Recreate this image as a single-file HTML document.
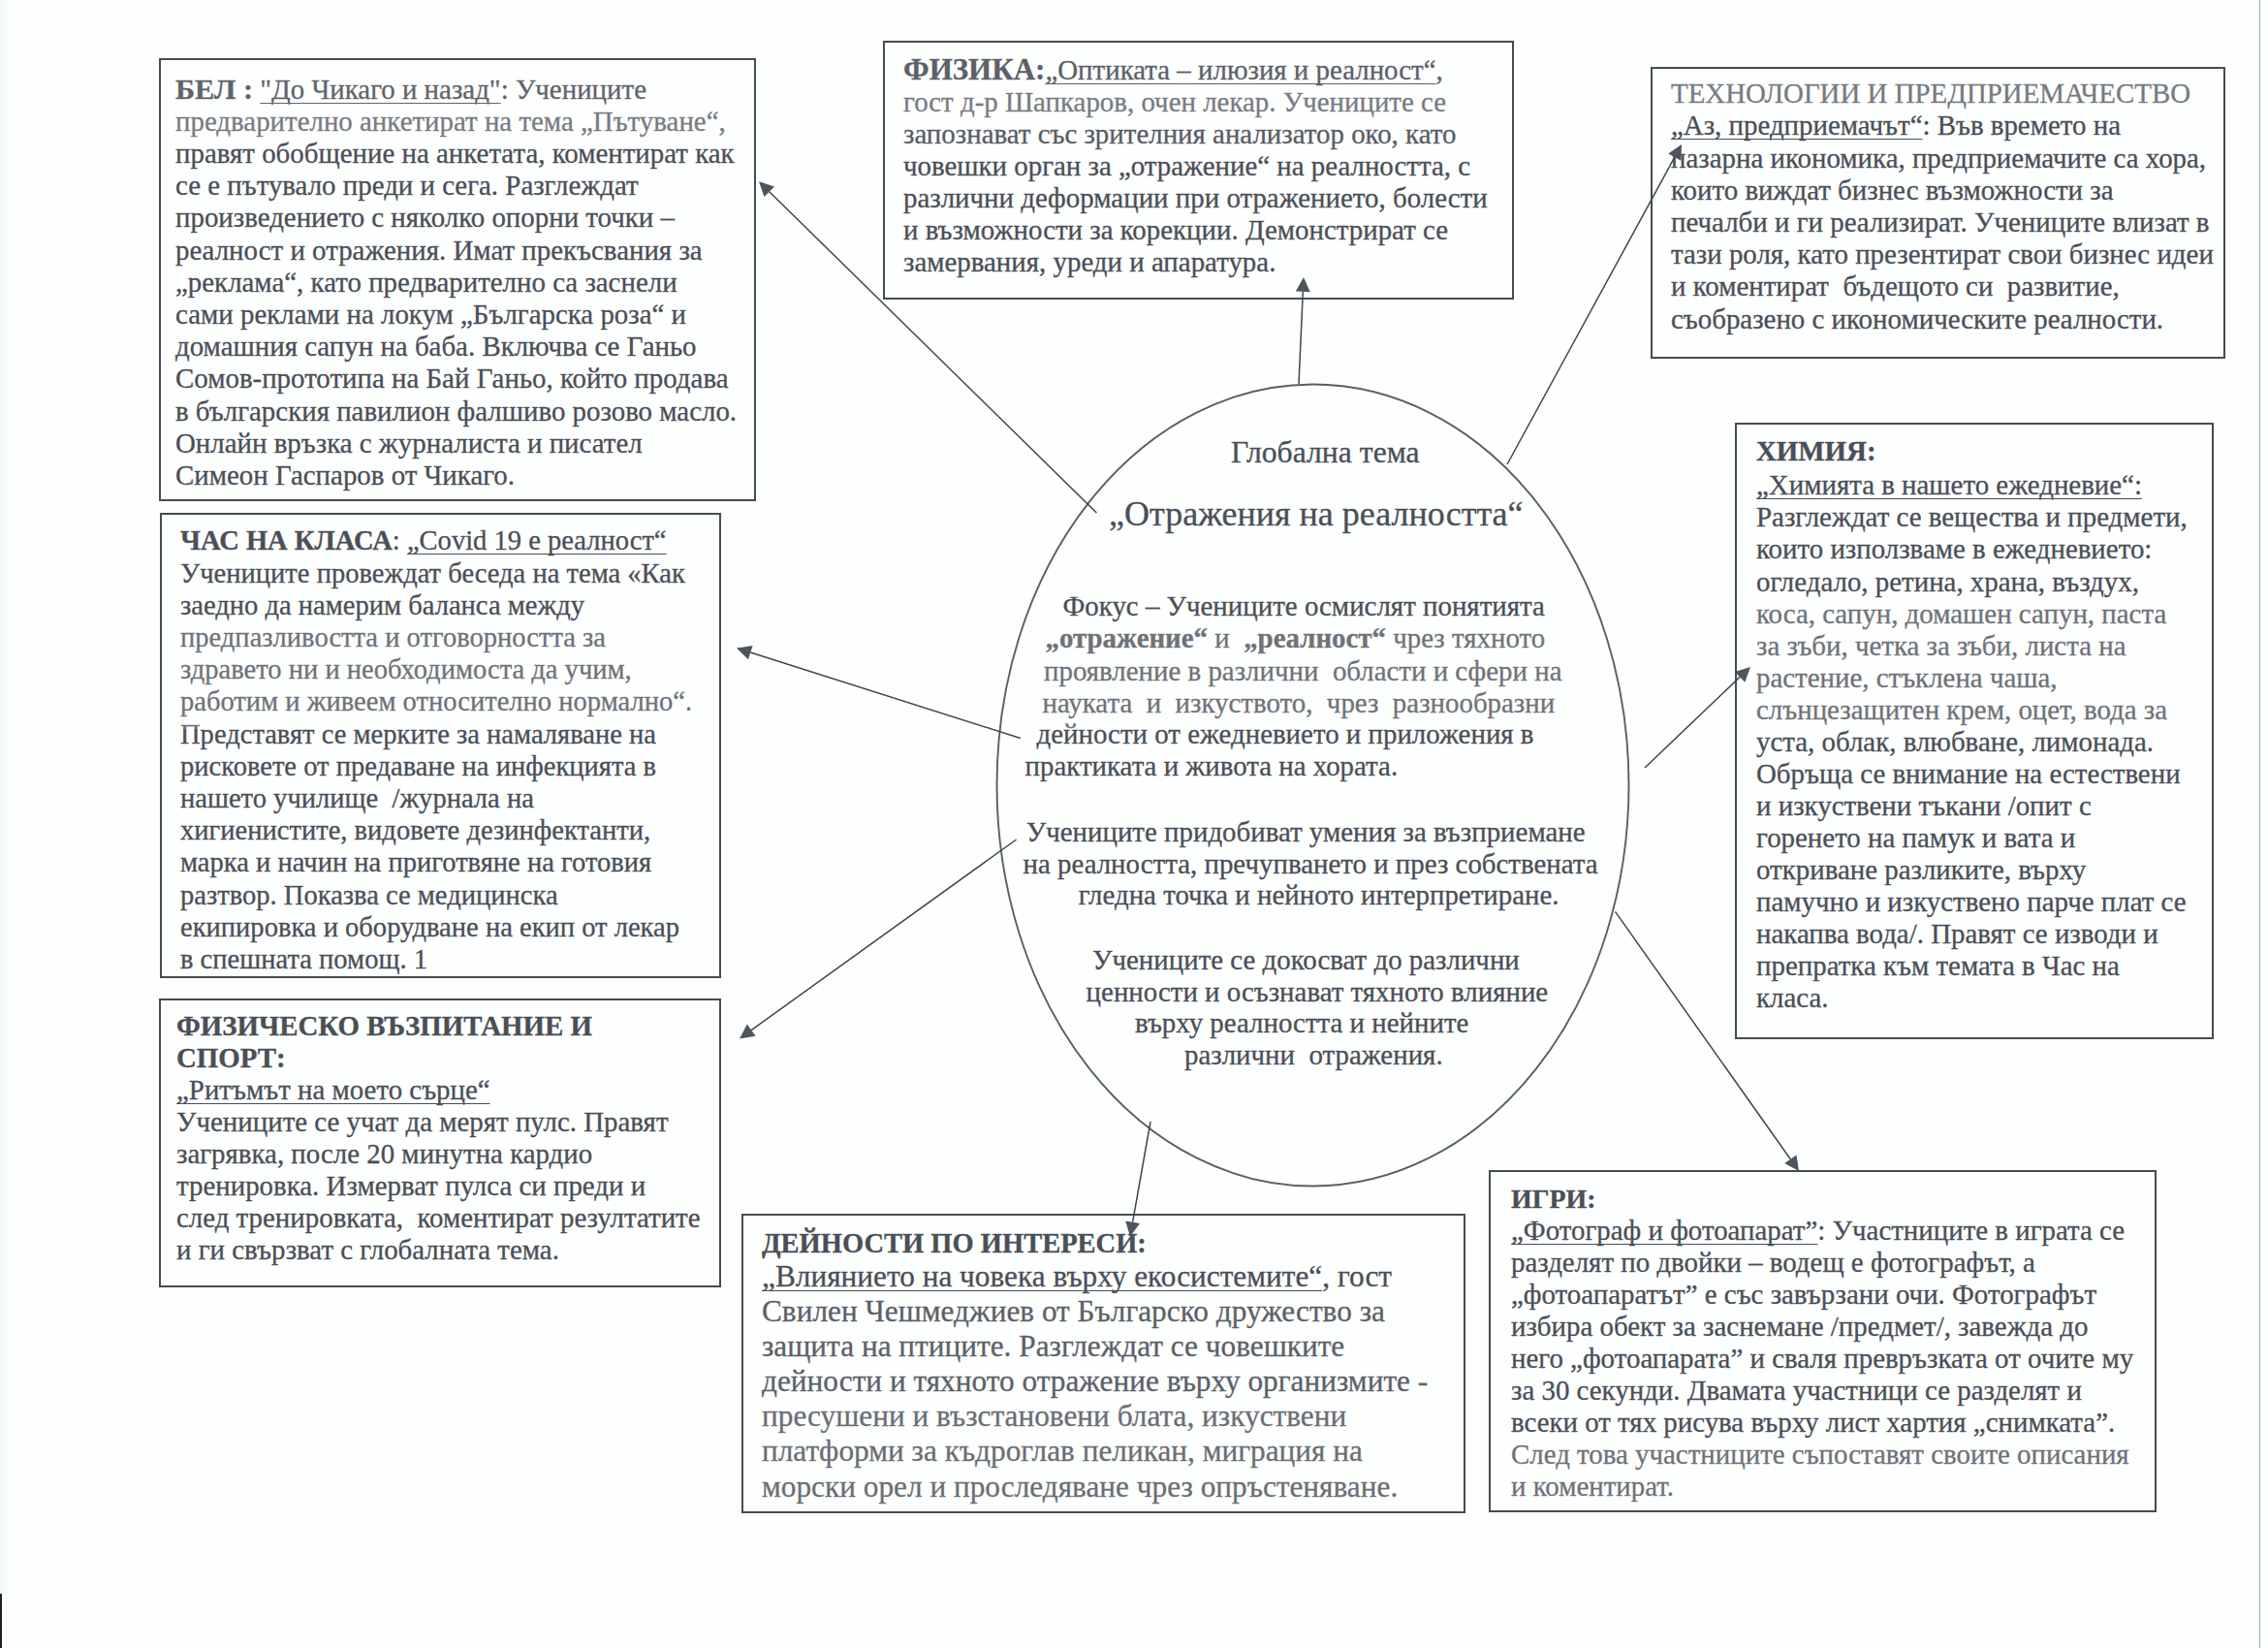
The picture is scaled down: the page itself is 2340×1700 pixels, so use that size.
<!DOCTYPE html>
<html><head><meta charset="utf-8"><style>
html,body{margin:0;padding:0}
body{width:2340px;height:1700px;position:relative;overflow:hidden;background:#fdfefe;font-family:"Liberation Serif",serif;color:#4a4f57}
.box{position:absolute;border:2px solid #464b54;box-sizing:border-box}
.l{position:absolute;white-space:pre;line-height:1;-webkit-text-stroke:0.3px #4a4f57}
u{text-decoration:underline;text-decoration-thickness:1.4px;text-underline-offset:3.5px;text-decoration-skip-ink:none}
b{font-weight:bold;line-height:0}
svg{position:absolute;left:0;top:0}
</style></head><body>

<div class="l" style="left:181.0px;top:77.5px;font-size:28.9px"><b style="font-size:30.3px">БЕЛ :</b> <u>"До Чикаго и назад"</u>: Учениците</div>
<div class="l" style="left:181.0px;top:110.7px;font-size:28.9px">предварително анкетират на тема „Пътуване“,</div>
<div class="l" style="left:181.0px;top:143.9px;font-size:28.9px">правят обобщение на анкетата, коментират как</div>
<div class="l" style="left:181.0px;top:177.1px;font-size:28.9px">се е пътувало преди и сега. Разглеждат</div>
<div class="l" style="left:181.0px;top:210.3px;font-size:28.9px">произведението с няколко опорни точки –</div>
<div class="l" style="left:181.0px;top:243.5px;font-size:28.9px">реалност и отражения. Имат прекъсвания за</div>
<div class="l" style="left:181.0px;top:276.7px;font-size:28.9px">„реклама“, като предварително са заснели</div>
<div class="l" style="left:181.0px;top:309.9px;font-size:28.9px">сами реклами на локум „Българска роза“ и</div>
<div class="l" style="left:181.0px;top:343.1px;font-size:28.9px">домашния сапун на баба. Включва се Ганьо</div>
<div class="l" style="left:181.0px;top:376.3px;font-size:28.9px">Сомов-прототипа на Бай Ганьо, който продава</div>
<div class="l" style="left:181.0px;top:409.5px;font-size:28.9px">в българския павилион фалшиво розово масло.</div>
<div class="l" style="left:181.0px;top:442.7px;font-size:28.9px">Онлайн връзка с журналиста и писател</div>
<div class="l" style="left:181.0px;top:475.9px;font-size:28.9px">Симеон Гаспаров от Чикаго.</div>
<div class="l" style="left:932.0px;top:58.3px;font-size:28.9px"><b style="font-size:31px">ФИЗИКА:</b><u>„Оптиката – илюзия и реалност“</u>,</div>
<div class="l" style="left:932.0px;top:91.3px;font-size:28.9px">гост д-р Шапкаров, очен лекар. Учениците се</div>
<div class="l" style="left:932.0px;top:124.3px;font-size:28.9px">запознават със зрителния анализатор око, като</div>
<div class="l" style="left:932.0px;top:157.3px;font-size:28.9px">човешки орган за „отражение“ на реалността, с</div>
<div class="l" style="left:932.0px;top:190.3px;font-size:28.9px">различни деформации при отражението, болести</div>
<div class="l" style="left:932.0px;top:223.3px;font-size:28.9px">и възможности за корекции. Демонстрират се</div>
<div class="l" style="left:932.0px;top:256.3px;font-size:28.9px">замервания, уреди и апаратура.</div>
<div class="l" style="left:1724.0px;top:82.1px;font-size:28.9px">ТЕХНОЛОГИИ И ПРЕДПРИЕМАЧЕСТВО</div>
<div class="l" style="left:1724.0px;top:115.3px;font-size:28.9px"><u>„Аз, предприемачът“</u>: Във времето на</div>
<div class="l" style="left:1724.0px;top:148.5px;font-size:28.9px">пазарна икономика, предприемачите са хора,</div>
<div class="l" style="left:1724.0px;top:181.7px;font-size:28.9px">които виждат бизнес възможности за</div>
<div class="l" style="left:1724.0px;top:214.9px;font-size:28.9px">печалби и ги реализират. Учениците влизат в</div>
<div class="l" style="left:1724.0px;top:248.1px;font-size:28.9px">тази роля, като презентират свои бизнес идеи</div>
<div class="l" style="left:1724.0px;top:281.3px;font-size:28.9px">и коментират  бъдещото си  развитие,</div>
<div class="l" style="left:1724.0px;top:314.5px;font-size:28.9px">съобразено с икономическите реалности.</div>
<div class="l" style="left:186.0px;top:544.4px;font-size:28.55px"><b>ЧАС НА КЛАСА</b>: <u>„Covid 19 е реалност“</u></div>
<div class="l" style="left:186.0px;top:577.6px;font-size:28.55px">Учениците провеждат беседа на тема «Как</div>
<div class="l" style="left:186.0px;top:610.8px;font-size:28.55px">заедно да намерим баланса между</div>
<div class="l" style="left:186.0px;top:644.0px;font-size:28.55px">предпазливостта и отговорността за</div>
<div class="l" style="left:186.0px;top:677.2px;font-size:28.55px">здравето ни и необходимоста да учим,</div>
<div class="l" style="left:186.0px;top:710.4px;font-size:28.55px">работим и живеем относително нормално“.</div>
<div class="l" style="left:186.0px;top:743.6px;font-size:28.55px">Представят се мерките за намаляване на</div>
<div class="l" style="left:186.0px;top:776.8px;font-size:28.55px">рисковете от предаване на инфекцията в</div>
<div class="l" style="left:186.0px;top:810.0px;font-size:28.55px">нашето училище  /журнала на</div>
<div class="l" style="left:186.0px;top:843.2px;font-size:28.55px">хигиенистите, видовете дезинфектанти,</div>
<div class="l" style="left:186.0px;top:876.4px;font-size:28.55px">марка и начин на приготвяне на готовия</div>
<div class="l" style="left:186.0px;top:909.6px;font-size:28.55px">разтвор. Показва се медицинска</div>
<div class="l" style="left:186.0px;top:942.8px;font-size:28.55px">екипировка и оборудване на екип от лекар</div>
<div class="l" style="left:186.0px;top:976.0px;font-size:28.55px">в спешната помощ. 1</div>
<div class="l" style="left:182.0px;top:1043.6px;font-size:28.9px"><b>ФИЗИЧЕСКО ВЪЗПИТАНИЕ И</b></div>
<div class="l" style="left:182.0px;top:1076.6px;font-size:28.9px"><b>СПОРТ:</b></div>
<div class="l" style="left:182.0px;top:1109.6px;font-size:28.9px"><u>„Ритъмът на моето сърце“</u></div>
<div class="l" style="left:182.0px;top:1142.6px;font-size:28.9px">Учениците се учат да мерят пулс. Правят</div>
<div class="l" style="left:182.0px;top:1175.6px;font-size:28.9px">загрявка, после 20 минутна кардио</div>
<div class="l" style="left:182.0px;top:1208.6px;font-size:28.9px">тренировка. Измерват пулса си преди и</div>
<div class="l" style="left:182.0px;top:1241.6px;font-size:28.9px">след тренировката,  коментират резултатите</div>
<div class="l" style="left:182.0px;top:1274.6px;font-size:28.9px">и ги свързват с глобалната тема.</div>
<div class="l" style="left:786.0px;top:1264.8px;font-size:31.3px"><b style="font-size:28.5px;position:relative;top:1.5px">ДЕЙНОСТИ ПО ИНТЕРЕСИ:</b></div>
<div class="l" style="left:786.0px;top:1300.9px;font-size:31.3px"><u>„Влиянието на човека върху екосистемите“</u>, гост</div>
<div class="l" style="left:786.0px;top:1337.0px;font-size:31.3px">Свилен Чешмеджиев от Българско дружество за</div>
<div class="l" style="left:786.0px;top:1373.1px;font-size:31.3px">защита на птиците. Разглеждат се човешките</div>
<div class="l" style="left:786.0px;top:1409.2px;font-size:31.3px">дейности и тяхното отражение върху организмите -</div>
<div class="l" style="left:786.0px;top:1445.3px;font-size:31.3px">пресушени и възстановени блата, изкуствени</div>
<div class="l" style="left:786.0px;top:1481.4px;font-size:31.3px">платформи за къдроглав пеликан, миграция на</div>
<div class="l" style="left:786.0px;top:1517.5px;font-size:31.3px">морски орел и проследяване чрез опръстеняване.</div>
<div class="l" style="left:1559.0px;top:1222.3px;font-size:28.9px"><b style="font-size:27.9px">ИГРИ:</b></div>
<div class="l" style="left:1559.0px;top:1255.3px;font-size:28.9px"><u>„Фотограф и фотоапарат”</u>: Участниците в играта се</div>
<div class="l" style="left:1559.0px;top:1288.3px;font-size:28.9px">разделят по двойки – водещ е фотографът, а</div>
<div class="l" style="left:1559.0px;top:1321.3px;font-size:28.9px">„фотоапаратът” е със завързани очи. Фотографът</div>
<div class="l" style="left:1559.0px;top:1354.3px;font-size:28.9px">избира обект за заснемане /предмет/, завежда до</div>
<div class="l" style="left:1559.0px;top:1387.3px;font-size:28.9px">него „фотоапарата” и сваля превръзката от очите му</div>
<div class="l" style="left:1559.0px;top:1420.3px;font-size:28.9px">за 30 секунди. Двамата участници се разделят и</div>
<div class="l" style="left:1559.0px;top:1453.3px;font-size:28.9px">всеки от тях рисува върху лист хартия „снимката”.</div>
<div class="l" style="left:1559.0px;top:1486.3px;font-size:28.9px">След това участниците съпоставят своите описания</div>
<div class="l" style="left:1559.0px;top:1519.3px;font-size:28.9px">и коментират.</div>
<div class="l" style="left:1812.0px;top:486.3px;font-size:28.9px"><u>„Химията в нашето ежедневие“:</u></div>
<div class="l" style="left:1812.0px;top:519.4px;font-size:28.9px">Разглеждат се вещества и предмети,</div>
<div class="l" style="left:1812.0px;top:552.4px;font-size:28.9px">които използваме в ежедневието:</div>
<div class="l" style="left:1812.0px;top:585.5px;font-size:28.9px">огледало, ретина, храна, въздух,</div>
<div class="l" style="left:1812.0px;top:618.6px;font-size:28.9px">коса, сапун, домашен сапун, паста</div>
<div class="l" style="left:1812.0px;top:651.6px;font-size:28.9px">за зъби, четка за зъби, листа на</div>
<div class="l" style="left:1812.0px;top:684.7px;font-size:28.9px">растение, стъклена чаша,</div>
<div class="l" style="left:1812.0px;top:717.8px;font-size:28.9px">слънцезащитен крем, оцет, вода за</div>
<div class="l" style="left:1812.0px;top:750.9px;font-size:28.9px">уста, облак, влюбване, лимонада.</div>
<div class="l" style="left:1812.0px;top:783.9px;font-size:28.9px">Обръща се внимание на естествени</div>
<div class="l" style="left:1812.0px;top:817.0px;font-size:28.9px">и изкуствени тъкани /опит с</div>
<div class="l" style="left:1812.0px;top:850.1px;font-size:28.9px">горенето на памук и вата и</div>
<div class="l" style="left:1812.0px;top:883.1px;font-size:28.9px">откриване разликите, върху</div>
<div class="l" style="left:1812.0px;top:916.2px;font-size:28.9px">памучно и изкуствено парче плат се</div>
<div class="l" style="left:1812.0px;top:949.3px;font-size:28.9px">накапва вода/. Правят се изводи и</div>
<div class="l" style="left:1812.0px;top:982.3px;font-size:28.9px">препратка към темата в Час на</div>
<div class="l" style="left:1812.0px;top:1015.4px;font-size:28.9px">класа.</div>
<div class="l" style="left:1812.0px;top:451.3px;font-size:28.9px"><b>ХИМИЯ:</b></div>
<div class="l" style="left:1270.0px;top:451.0px;font-size:31.7px">Глобална тема</div>
<div class="l" style="left:1144.0px;top:511.9px;font-size:36px">„Отражения на реалността“</div>
<div class="l" style="left:1096.5px;top:610.8px;font-size:28.9px">Фокус – Учениците осмислят понятията</div>
<div class="l" style="left:1078.5px;top:643.8px;font-size:28.9px"><b>„отражение“</b> и  <b>„реалност“</b> чрез тяхното</div>
<div class="l" style="left:1077.0px;top:677.8px;font-size:28.9px">проявление в различни  области и сфери на</div>
<div class="l" style="left:1075.5px;top:710.8px;font-size:28.9px">науката  и  изкуството,  чрез  разнообразни</div>
<div class="l" style="left:1069.5px;top:742.8px;font-size:28.9px">дейности от ежедневието и приложения в</div>
<div class="l" style="left:1057.5px;top:775.8px;font-size:28.9px">практиката и живота на хората.</div>
<div class="l" style="left:1058.7px;top:843.8px;font-size:28.9px">Учениците придобиват умения за възприемане</div>
<div class="l" style="left:1055.5px;top:877.4px;font-size:28.9px">на реалността, пречупването и през собствената</div>
<div class="l" style="left:1112.7px;top:908.8px;font-size:28.9px">гледна точка и нейното интерпретиране.</div>
<div class="l" style="left:1127.0px;top:975.8px;font-size:28.9px">Учениците се докосват до различни</div>
<div class="l" style="left:1120.6px;top:1008.8px;font-size:28.9px">ценности и осъзнават тяхното влияние</div>
<div class="l" style="left:1171.0px;top:1040.8px;font-size:28.9px">върху реалността и нейните</div>
<div class="l" style="left:1222.0px;top:1073.8px;font-size:28.9px">различни  отражения.</div>
<div style="position:absolute;left:168px;top:62px;width:608px;height:48px;pointer-events:none;background:rgba(255,255,255,0.12)"></div>
<div style="position:absolute;left:168px;top:110px;width:608px;height:33px;pointer-events:none;background:rgba(255,255,255,0.25)"></div>
<div style="position:absolute;left:915px;top:48px;width:643px;height:42px;pointer-events:none;background:rgba(255,255,255,0.1)"></div>
<div style="position:absolute;left:915px;top:90px;width:643px;height:32px;pointer-events:none;background:rgba(255,255,255,0.25)"></div>
<div style="position:absolute;left:915px;top:122px;width:643px;height:32px;pointer-events:none;background:rgba(255,255,255,0.08)"></div>
<div style="position:absolute;left:1708px;top:74px;width:584px;height:38px;pointer-events:none;background:rgba(255,255,255,0.25)"></div>
<div style="position:absolute;left:0px;top:642px;width:1760px;height:110px;pointer-events:none;background:rgba(255,255,255,0.2)"></div>
<div style="position:absolute;left:1795px;top:619px;width:485px;height:133px;pointer-events:none;background:rgba(255,255,255,0.2)"></div>
<div style="position:absolute;left:768px;top:1335px;width:740px;height:110px;pointer-events:none;background:rgba(255,255,255,0.1)"></div>
<div style="position:absolute;left:768px;top:1445px;width:740px;height:113px;pointer-events:none;background:rgba(255,255,255,0.18)"></div>
<div style="position:absolute;left:1540px;top:1488px;width:690px;height:72px;pointer-events:none;background:rgba(255,255,255,0.2)"></div>
<div class="box" style="left:164px;top:60px;width:616px;height:457px"></div>
<div class="box" style="left:911px;top:42px;width:651px;height:267px"></div>
<div class="box" style="left:1703px;top:69px;width:593px;height:301px"></div>
<div class="box" style="left:165px;top:529px;width:579px;height:480px"></div>
<div class="box" style="left:164px;top:1030px;width:580px;height:298px"></div>
<div class="box" style="left:765px;top:1252px;width:747px;height:309px"></div>
<div class="box" style="left:1536px;top:1207px;width:689px;height:353px"></div>
<div class="box" style="left:1790px;top:436px;width:494px;height:636px"></div>
<svg width="2340" height="1700" viewBox="0 0 2340 1700">
<ellipse cx="1354.5" cy="810" rx="326" ry="413.5" fill="none" stroke="#5a5f67" stroke-width="1.9"/>
<line x1="1131.4" y1="529" x2="793.7" y2="197.7" stroke="#40454d" stroke-width="1.5"/>
<polygon points="783,187.2 799.0,192.4 788.5,203.1" fill="#4f545d"/>
<line x1="1340" y1="396" x2="1344.3" y2="301.0" stroke="#40454d" stroke-width="1.5"/>
<polygon points="1345,286 1351.8,301.3 1336.8,300.6" fill="#4f545d"/>
<line x1="1555" y1="479" x2="1727.8" y2="162.2" stroke="#40454d" stroke-width="1.5"/>
<polygon points="1735,149 1734.4,165.8 1721.2,158.6" fill="#4f545d"/>
<line x1="1052.8" y1="761.5" x2="774.3" y2="673.0" stroke="#40454d" stroke-width="1.5"/>
<polygon points="760,668.5 776.6,665.9 772.0,680.2" fill="#4f545d"/>
<line x1="1048.6" y1="866" x2="775.2" y2="1062.6" stroke="#40454d" stroke-width="1.5"/>
<polygon points="763,1071.4 770.8,1056.6 779.6,1068.7" fill="#4f545d"/>
<line x1="1187" y1="1157" x2="1168.6" y2="1260.7" stroke="#40454d" stroke-width="1.5"/>
<polygon points="1166,1275.5 1161.2,1259.4 1176.0,1262.0" fill="#4f545d"/>
<line x1="1697" y1="792" x2="1795.1" y2="698.4" stroke="#40454d" stroke-width="1.5"/>
<polygon points="1806,688 1800.3,703.8 1790.0,692.9" fill="#4f545d"/>
<line x1="1666.5" y1="940.4" x2="1847.3" y2="1195.8" stroke="#40454d" stroke-width="1.5"/>
<polygon points="1856,1208 1841.2,1200.1 1853.5,1191.4" fill="#4f545d"/>
<line x1="2331.5" y1="0" x2="2331.5" y2="1700" stroke="#a9b3c0" stroke-width="1.2"/>
<rect x="0" y="0" width="12" height="1644" fill="url(#lg)"/>
<defs><linearGradient id="lg" x1="0" x2="1" y1="0" y2="0"><stop offset="0" stop-color="#eef7fa"/><stop offset="1" stop-color="#fdfefe" stop-opacity="0"/></linearGradient></defs>
<rect x="0" y="1644" width="2" height="56" fill="#222"/>
</svg>
</body></html>
